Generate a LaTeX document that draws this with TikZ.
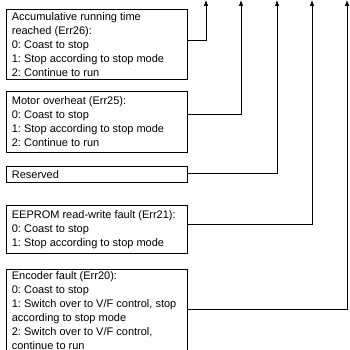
\documentclass[tikz,border=0pt]{standalone}
\usepackage{fontspec}
\setmainfont{Liberation Sans}
\usetikzlibrary{arrows.meta, positioning, calc}

\begin{document}
\begin{tikzpicture}[>={Latex[length=6pt,width=4.5pt]}, x=1pt, y=-1pt,
    errbox/.style={draw, line width=0.7pt, anchor=north west, align=flush left,
      inner xsep=5.5pt, inner ysep=0pt, text width=170pt,
      font=\fontsize{11}{14}\selectfont\frenchspacing},
    link/.style={->, line width=0.7pt}]
  \useasboundingbox (0,0) rectangle (350,350);

  % Fault boxes
  \node[errbox, minimum height=70pt] (acc) at (6,9)
    {Accumulative running time\\reached (Err26):\\0: Coast to stop\\1: Stop according to stop mode\\2: Continue to run};
  \node[errbox, minimum height=61pt] (mot) at (6,91)
    {Motor overheat (Err25):\\0: Coast to stop\\1: Stop according to stop mode\\2: Continue to run};
  \node[errbox, minimum height=16pt] (res) at (6,166) {Reserved};
  \node[errbox, minimum height=48pt] (eep) at (6,205)
    {EEPROM read-write fault (Err21):\\0: Coast to stop\\1: Stop according to stop mode};
  \node[errbox, minimum height=82pt] (enc) at (6,269)
    {Encoder fault (Err20):\\0: Coast to stop\\1: Switch over to V/F control, stop\\according to stop mode\\2: Switch over to V/F control,\\continue to run};

  % Digit positions at the top
  \coordinate (d1) at (206,0);
  \coordinate (d2) at (241,0);
  \coordinate (d3) at (277,0);
  \coordinate (d4) at (312,0);
  \coordinate (d5) at (347,0);

  % Connectors
  \draw[link] ([yshift=4pt]acc.east) -| (d1);
  \draw[link] ([yshift=7.5pt]mot.east) -| (d2);
  \draw[link] ([yshift=1pt]res.east) -| (d3);
  \draw[link] ([yshift=5pt]eep.east) -| (d4);
  \draw[link] ([yshift=1pt]enc.east) -| (d5);
\end{tikzpicture}
\end{document}
